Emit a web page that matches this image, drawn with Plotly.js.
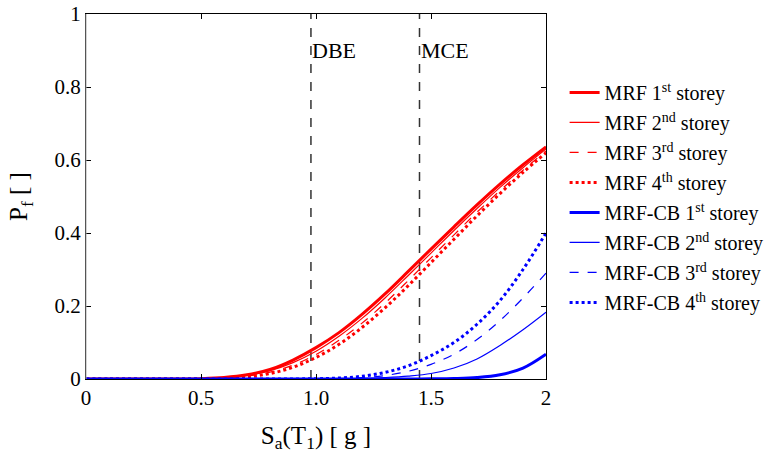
<!DOCTYPE html>
<html>
<head>
<meta charset="utf-8">
<script src="https://cdn.plot.ly/plotly-3.0.1.min.js"></script>
<style>html,body{margin:0;padding:0;background:#fff;}#chart{width:782px;height:453px;}</style>
</head>
<body>
<div id="chart"></div>
<script>
// Sa(T1) [g]
const sa = [0,0.1,0.2,0.3,0.4,0.5,0.6,0.7,0.8,0.9,1.0,1.1,1.2,1.3,1.4,1.5,1.6,1.7,1.8,1.9,2.0];
const mrf1 = [0,0,0,0,0.0001,0.0009,0.0039,0.0114,0.026,0.052,0.086,0.127,0.177,0.233,0.294,0.356,0.417,0.477,0.534,0.587,0.636];
const mrf2 = [0,0,0,0,0.0001,0.0007,0.0032,0.0098,0.023,0.045,0.076,0.117,0.166,0.222,0.283,0.345,0.407,0.467,0.525,0.579,0.630];
const mrf3 = [0,0,0,0,0,0.0005,0.0024,0.0078,0.019,0.038,0.067,0.106,0.153,0.208,0.269,0.332,0.395,0.457,0.516,0.572,0.625];
const mrf4 = [0,0,0,0,0,0.0003,0.0016,0.0057,0.015,0.032,0.059,0.095,0.141,0.195,0.255,0.319,0.383,0.447,0.508,0.566,0.620];
const cb1 = [0,0,0,0,0,0,0,0,0,0,0,0,0,0,0.0001,0.0004,0.0012,0.0038,0.0115,0.030,0.068];
const cb2 = [0,0,0,0,0,0,0,0,0,0,0.0001,0.0005,0.0015,0.004,0.008,0.015,0.030,0.055,0.092,0.135,0.183];
const cb3 = [0,0,0,0,0,0,0,0,0,0,0.0003,0.0012,0.0037,0.0095,0.021,0.040,0.068,0.108,0.160,0.222,0.290];
const cb4 = [0,0,0,0,0,0,0,0,0,0.0002,0.0008,0.0026,0.0075,0.018,0.036,0.064,0.100,0.150,0.215,0.300,0.400];

const hazardNames = ["DBE","MCE"];
const hazardSa = [0.978, 1.45];

const seriesNames = [
  "MRF 1<sup>st</sup> storey","MRF 2<sup>nd</sup> storey","MRF 3<sup>rd</sup> storey","MRF 4<sup>th</sup> storey",
  "MRF-CB 1<sup>st</sup> storey","MRF-CB 2<sup>nd</sup> storey","MRF-CB 3<sup>rd</sup> storey","MRF-CB 4<sup>th</sup> storey"
];
const seriesData = [mrf1,mrf2,mrf3,mrf4,cb1,cb2,cb3,cb4];
const seriesColor = ["#ff0000","#ff0000","#ff0000","#ff0000","#0000ff","#0000ff","#0000ff","#0000ff"];
const seriesDash = ["solid","solid","dash","dot","solid","solid","dash","dot"];
const seriesWidth = [3,1.2,1.2,3,3,1.2,1.2,3];

const xTickVals = [0,0.5,1,1.5,2];
const xTickText = ["0","0.5","1.0","1.5","2"];
const yTickVals = [0,0.2,0.4,0.6,0.8,1];
const yTickText = ["0","0.2","0.4","0.6","0.8","1"];

const traces = [];
hazardSa.forEach(function(v){
  traces.push({x:[v,v], y:[0,1], mode:"lines", line:{color:"#333333", dash:"dash", width:1.5}, showlegend:false, hoverinfo:"skip"});
});
seriesData.forEach(function(d,i){
  traces.push({x:sa, y:d, name:seriesNames[i], legendgroup:"g"+i, mode:"lines",
    line:{color:seriesColor[i], dash:seriesDash[i], width:seriesWidth[i], shape:"spline", smoothing:1}});
});

const font = "Liberation Serif";
const annotations = hazardNames.map(function(n,i){
  return {x:hazardSa[i], y:0.9, xref:"x", yref:"y", text:n, showarrow:false, xanchor:"left", yanchor:"middle",
    font:{family:font, size:22, color:"#000"}, xshift:-1};
});

const layout = {
  width:782, height:453,
  margin:{l:86, r:236, t:14, b:74},
  paper_bgcolor:"#fff", plot_bgcolor:"#fff",
  font:{family:font, color:"#000"},
  showlegend:true,
  legend:{xref:"container", yref:"container", x:0.722, xanchor:"left", y:0.839, yanchor:"top", maxheight:420,
    font:{family:font, size:20, color:"#000"}, bgcolor:"rgba(0,0,0,0)", tracegroupgap:1},
  xaxis:{range:[0,2], tickvals:xTickVals, ticktext:xTickText, ticks:"inside", ticklen:5, tickcolor:"#000",
    showline:true, linecolor:"#000", linewidth:1, mirror:"ticks", showgrid:false, zeroline:false,
    tickfont:{family:font, size:21, color:"#000"},
    title:{text:"S<sub>a</sub>(T<sub>1</sub>) [ g ]", font:{family:font, size:25, color:"#000"}, standoff:18}},
  yaxis:{range:[0,1], tickvals:yTickVals, ticktext:yTickText, ticks:"inside", ticklen:5, tickcolor:"#000",
    showline:true, linecolor:"#000", linewidth:1, mirror:"ticks", showgrid:false, zeroline:false,
    tickfont:{family:font, size:21, color:"#000"},
    title:{text:"P<sub>f</sub> [ ]", font:{family:font, size:25, color:"#000"}, standoff:19}},
  annotations:annotations,
  shapes:[{type:"line", xref:"paper", yref:"paper", x0:0, x1:0, y0:0, y1:1, line:{color:"#aaaaaa", width:1}, layer:"above"}]
};

Plotly.newPlot("chart", traces, layout, {displayModeBar:false, staticPlot:true});
</script>
</body>
</html>
